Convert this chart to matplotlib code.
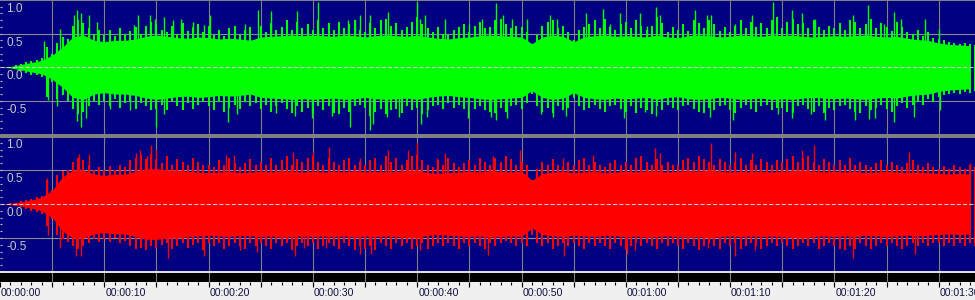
import numpy as np
import matplotlib
matplotlib.use("Agg")
import matplotlib.pyplot as plt
from matplotlib.patches import Rectangle
import matplotlib.transforms as mtransforms

# ---------------- data ----------------
# solid "body" level of each channel, 1 s steps
green_body = [
    0.00, 0.01, 0.04, 0.07, 0.10, 0.18, 0.30, 0.45, 0.48, 0.40,
    0.38, 0.40, 0.40, 0.42, 0.46, 0.48, 0.46, 0.44, 0.43, 0.45,
    0.44, 0.42, 0.43, 0.42, 0.40, 0.45, 0.46, 0.47, 0.48, 0.47,
    0.48, 0.47, 0.46, 0.48, 0.47, 0.45, 0.47, 0.48, 0.47, 0.46,
    0.48, 0.45, 0.43, 0.42, 0.44, 0.45, 0.47, 0.48, 0.47, 0.46,
    0.45, 0.35, 0.45, 0.48, 0.46, 0.38, 0.45, 0.47, 0.48, 0.46,
    0.47, 0.46, 0.45, 0.48, 0.45, 0.44, 0.47, 0.48, 0.47, 0.45,
    0.46, 0.48, 0.47, 0.46, 0.48, 0.47, 0.48, 0.46, 0.45, 0.46,
    0.47, 0.46, 0.47, 0.48, 0.46, 0.45, 0.46, 0.43, 0.41, 0.40,
    0.36, 0.34, 0.33, 0.32,
]
red_body = [
    0.00, 0.01, 0.03, 0.06, 0.10, 0.20, 0.40, 0.50, 0.50, 0.44,
    0.42, 0.44, 0.44, 0.48, 0.52, 0.52, 0.50, 0.50, 0.48, 0.47,
    0.46, 0.47, 0.48, 0.46, 0.47, 0.48, 0.47, 0.49, 0.48, 0.47,
    0.48, 0.47, 0.48, 0.47, 0.49, 0.47, 0.48, 0.47, 0.48, 0.49,
    0.50, 0.46, 0.45, 0.46, 0.47, 0.48, 0.47, 0.49, 0.48, 0.47,
    0.48, 0.35, 0.45, 0.47, 0.48, 0.46, 0.47, 0.48, 0.46, 0.47,
    0.48, 0.47, 0.49, 0.48, 0.47, 0.48, 0.49, 0.48, 0.50, 0.48,
    0.47, 0.48, 0.47, 0.48, 0.47, 0.48, 0.49, 0.50, 0.48, 0.47,
    0.48, 0.47, 0.48, 0.46, 0.47, 0.48, 0.47, 0.46, 0.47, 0.46,
    0.45, 0.44, 0.45, 0.44,
]
# jagged peak edge of each channel, 0.5 s steps
green_upper = [
    0.00, 0.00, 0.01, 0.03, 0.05, 0.07, 0.09, 0.10, 0.13, 0.30,
    0.20, 0.36, 0.45, 0.42, 0.62, 0.70, 0.66, 0.58, 0.50, 0.56,
    0.48, 0.55, 0.46, 0.58, 0.50, 0.54, 0.60, 0.50, 0.62, 0.68,
    0.64, 0.56, 0.52, 0.62, 0.50, 0.66, 0.54, 0.60, 0.64, 0.52,
    0.62, 0.48, 0.56, 0.46, 0.58, 0.62, 0.50, 0.56, 0.60, 0.40,
    0.62, 0.52, 0.66, 0.55, 0.60, 0.70, 0.56, 0.68, 0.58, 0.64,
    0.56, 0.70, 0.58, 0.66, 0.55, 0.68, 0.58, 0.64, 0.70, 0.56,
    0.52, 0.66, 0.58, 0.70, 0.72, 0.62, 0.66, 0.56, 0.60, 0.68,
    0.74, 0.64, 0.58, 0.52, 0.60, 0.50, 0.48, 0.56, 0.60, 0.64,
    0.52, 0.62, 0.68, 0.58, 0.60, 0.70, 0.72, 0.64, 0.58, 0.62,
    0.60, 0.52, 0.35, 0.48, 0.62, 0.68, 0.70, 0.58, 0.62, 0.52,
    0.40, 0.56, 0.60, 0.64, 0.70, 0.58, 0.72, 0.60, 0.56, 0.64,
    0.68, 0.58, 0.70, 0.62, 0.56, 0.62, 0.74, 0.66, 0.52, 0.60,
    0.56, 0.64, 0.54, 0.70, 0.66, 0.58, 0.70, 0.64, 0.54, 0.60,
    0.52, 0.62, 0.70, 0.58, 0.68, 0.60, 0.66, 0.58, 0.70, 0.74,
    0.58, 0.68, 0.72, 0.64, 0.66, 0.58, 0.70, 0.60, 0.55, 0.62,
    0.58, 0.66, 0.56, 0.70, 0.68, 0.58, 0.64, 0.72, 0.58, 0.66,
    0.60, 0.54, 0.68, 0.60, 0.52, 0.50, 0.56, 0.46, 0.52, 0.44,
    0.42, 0.40, 0.37, 0.36, 0.34, 0.36, 0.34, 0.33,
]
green_lower = [
    0.00, 0.00, -0.01, -0.03, -0.06, -0.09, -0.11, -0.12, -0.14, -0.45,
    -0.22, -0.48, -0.42, -0.50, -0.62, -0.70, -0.66, -0.58, -0.50, -0.56,
    -0.50, -0.58, -0.48, -0.60, -0.54, -0.50, -0.62, -0.54, -0.58, -0.64,
    -0.62, -0.56, -0.64, -0.52, -0.58, -0.64, -0.54, -0.62, -0.56, -0.52,
    -0.58, -0.64, -0.52, -0.66, -0.60, -0.56, -0.62, -0.52, -0.58, -0.54,
    -0.62, -0.56, -0.66, -0.58, -0.54, -0.62, -0.68, -0.58, -0.66, -0.60,
    -0.68, -0.58, -0.64, -0.58, -0.68, -0.70, -0.60, -0.66, -0.58, -0.56,
    -0.60, -0.72, -0.66, -0.62, -0.70, -0.64, -0.62, -0.68, -0.58, -0.64,
    -0.60, -0.70, -0.64, -0.58, -0.56, -0.62, -0.54, -0.60, -0.56, -0.62,
    -0.54, -0.62, -0.58, -0.64, -0.66, -0.68, -0.60, -0.66, -0.58, -0.56,
    -0.62, -0.54, -0.40, -0.58, -0.66, -0.60, -0.68, -0.58, -0.64, -0.60,
    -0.46, -0.58, -0.64, -0.60, -0.56, -0.62, -0.66, -0.58, -0.56, -0.62,
    -0.66, -0.58, -0.68, -0.60, -0.64, -0.70, -0.58, -0.64, -0.56, -0.60,
    -0.64, -0.58, -0.56, -0.62, -0.66, -0.68, -0.60, -0.64, -0.58, -0.56,
    -0.64, -0.68, -0.60, -0.56, -0.62, -0.66, -0.58, -0.56, -0.64, -0.60,
    -0.60, -0.66, -0.68, -0.58, -0.56, -0.62, -0.66, -0.58, -0.68, -0.60,
    -0.64, -0.58, -0.56, -0.62, -0.66, -0.68, -0.58, -0.64, -0.60, -0.56,
    -0.62, -0.66, -0.58, -0.54, -0.60, -0.56, -0.52, -0.56, -0.48, -0.52,
    -0.45, -0.42, -0.40, -0.38, -0.40, -0.37, -0.38, -0.36,
]
green_spike_t = [
    4.2, 4.6, 5.5, 5.8, 7.1, 7.4, 7.8, 8.5, 7.4, 7.8, 8.2, 9.3, 10.5, 12.5,
    12.8, 13.2, 14.4, 14.9, 15.0, 15.7, 15.7, 16.6, 17.4, 18.5, 19.6, 20.1,
    21.9, 22.7, 23.5, 24.7, 26.0, 26.5, 28.3, 28.5, 29.9, 30.5, 31.8, 33.4,
    33.6, 34.0, 34.5, 35.5, 35.5, 35.8, 37.2, 37.1, 38.3, 39.95, 40.3, 40.4,
    40.7, 40.9, 42.7, 45.0, 44.9, 46.2, 47.1, 47.6, 47.6, 48.2, 48.6, 49.1,
    50.5, 51.9, 52.7, 53.0, 53.4, 54.3, 56.2, 57.8, 58.5, 59.4, 59.8, 61.4,
    61.8, 62.0, 62.5, 62.9, 62.9, 63.3, 66.5, 66.6, 67.8, 68.2, 68.1, 70.3,
    70.5, 72.1, 74.6, 74.1, 75.9, 75.9, 76.9, 77.8, 78.1, 79.1, 81.8, 82.0,
    83.2, 83.3, 83.9, 84.8, 85.75, 85.75, 86.4, 87.6, 88.7, 90.0, 90.1,
]
green_spike_v = [
    0.39, -0.49, -0.58, 0.57, 0.77, 0.85, 0.80, 0.77, -0.80, -0.89, -0.75, 0.67, -0.62, -0.64,
    0.63, 0.77, 0.77, 0.72, -0.89, 0.75, -0.70, 0.70, 0.72, 0.68, 0.63, 0.77,
    -0.81, -0.70, 0.65, 0.85, 0.83, -0.68, -0.73, 0.83, -0.76, 0.97, -0.72, 0.70,
    -0.89, 0.70, 0.77, 0.77, -0.94, -0.84, 0.82, -0.74, -0.74, 0.97, 0.72, -0.84,
    0.77, -0.74, 0.72, 0.65, -0.76, 0.72, -0.74, 0.95, -0.78, 0.77, -0.76, 0.72,
    0.72, -0.70, 0.77, -0.74, 0.72, -0.72, 0.80, 0.87, 0.65, 0.80, -0.76, 0.80,
    -0.66, 0.62, -0.64, 0.90, -0.72, 0.77, 0.70, 0.85, 0.77, 0.77, -0.74, -0.79,
    0.65, 0.77, -0.70, 0.97, 0.85, -0.76, 0.80, -0.70, 0.72, -0.79, 0.77, -0.79,
    0.92, -0.77, -0.76, 0.65, 0.82, -0.81, 0.72, -0.74, 0.72, 0.57, -0.64,
]

red_upper = [
    0.00, 0.00, 0.01, 0.02, 0.04, 0.06, 0.08, 0.10, 0.12, 0.35,
    0.20, 0.42, 0.48, 0.50, 0.62, 0.68, 0.64, 0.58, 0.50, 0.54,
    0.50, 0.56, 0.50, 0.58, 0.54, 0.64, 0.68, 0.72, 0.66, 0.74,
    0.66, 0.60, 0.70, 0.58, 0.66, 0.62, 0.58, 0.68, 0.62, 0.58,
    0.58, 0.55, 0.64, 0.58, 0.68, 0.60, 0.55, 0.60, 0.66, 0.58,
    0.62, 0.58, 0.68, 0.58, 0.64, 0.70, 0.58, 0.66, 0.62, 0.68,
    0.70, 0.62, 0.58, 0.68, 0.62, 0.58, 0.64, 0.68, 0.58, 0.62,
    0.58, 0.64, 0.68, 0.58, 0.70, 0.62, 0.68, 0.58, 0.64, 0.70,
    0.72, 0.64, 0.58, 0.55, 0.64, 0.58, 0.68, 0.60, 0.55, 0.60,
    0.64, 0.58, 0.68, 0.62, 0.58, 0.68, 0.62, 0.70, 0.66, 0.58,
    0.62, 0.58, 0.35, 0.52, 0.62, 0.58, 0.66, 0.58, 0.55, 0.62,
    0.58, 0.64, 0.68, 0.58, 0.62, 0.58, 0.55, 0.60, 0.64, 0.58,
    0.62, 0.58, 0.68, 0.70, 0.62, 0.58, 0.66, 0.58, 0.62, 0.58,
    0.58, 0.64, 0.68, 0.62, 0.70, 0.66, 0.62, 0.58, 0.66, 0.62,
    0.58, 0.62, 0.68, 0.58, 0.64, 0.58, 0.66, 0.62, 0.58, 0.64,
    0.62, 0.66, 0.70, 0.62, 0.68, 0.70, 0.62, 0.58, 0.66, 0.62,
    0.58, 0.64, 0.58, 0.68, 0.58, 0.62, 0.58, 0.55, 0.60, 0.64,
    0.58, 0.62, 0.58, 0.55, 0.60, 0.64, 0.58, 0.55, 0.60, 0.55,
    0.52, 0.56, 0.52, 0.58, 0.55, 0.52, 0.58, 0.55,
]
red_lower = [
    0.00, 0.00, -0.01, -0.03, -0.05, -0.08, -0.10, -0.12, -0.14, -0.33,
    -0.22, -0.45, -0.52, -0.56, -0.62, -0.66, -0.62, -0.58, -0.52, -0.56,
    -0.52, -0.56, -0.50, -0.58, -0.55, -0.62, -0.66, -0.64, -0.68, -0.62,
    -0.64, -0.60, -0.58, -0.66, -0.62, -0.58, -0.64, -0.60, -0.58, -0.68,
    -0.58, -0.62, -0.58, -0.66, -0.62, -0.58, -0.62, -0.66, -0.58, -0.62,
    -0.58, -0.62, -0.66, -0.58, -0.62, -0.58, -0.68, -0.62, -0.58, -0.62,
    -0.58, -0.66, -0.62, -0.58, -0.62, -0.66, -0.58, -0.62, -0.68, -0.62,
    -0.66, -0.62, -0.68, -0.58, -0.62, -0.66, -0.58, -0.62, -0.58, -0.66,
    -0.62, -0.58, -0.66, -0.62, -0.58, -0.62, -0.58, -0.62, -0.66, -0.58,
    -0.62, -0.58, -0.62, -0.66, -0.58, -0.62, -0.58, -0.55, -0.58, -0.62,
    -0.58, -0.62, -0.45, -0.58, -0.62, -0.58, -0.66, -0.62, -0.58, -0.62,
    -0.58, -0.62, -0.66, -0.58, -0.62, -0.58, -0.62, -0.66, -0.58, -0.62,
    -0.66, -0.62, -0.58, -0.62, -0.58, -0.62, -0.66, -0.58, -0.62, -0.58,
    -0.62, -0.66, -0.58, -0.62, -0.68, -0.62, -0.58, -0.62, -0.66, -0.58,
    -0.62, -0.58, -0.66, -0.62, -0.58, -0.62, -0.66, -0.62, -0.58, -0.62,
    -0.58, -0.62, -0.66, -0.62, -0.58, -0.62, -0.58, -0.66, -0.62, -0.58,
    -0.62, -0.66, -0.68, -0.62, -0.66, -0.58, -0.62, -0.66, -0.62, -0.58,
    -0.62, -0.58, -0.62, -0.66, -0.62, -0.58, -0.62, -0.58, -0.62, -0.58,
    -0.58, -0.62, -0.58, -0.62, -0.58, -0.62, -0.58, -0.62,
]
red_spike_t = [
    4.5, 4.6, 5.8, 7.6, 8.5, 7.3, 7.8, 13.0, 13.4, 14.1, 14.5, 15.0, 16.1,
    19.6, 21.7, 22.4, 23.0, 24.6, 28.1, 28.3, 29.1, 30.0, 31.5, 31.3, 34.5,
    34.5, 35.6, 37.2, 39.1, 39.95, 40.3, 41.9, 42.7, 46.8, 47.3, 49.9, 54.0,
    54.1, 56.9, 60.1, 60.9, 62.8, 63.3, 63.0, 67.9, 68.2, 70.5, 70.5, 72.1,
    72.4, 76.9, 78.0, 78.5, 81.8, 87.2, 87.7, 93.0,
]
red_spike_v = [
    0.38, -0.46, -0.65, 0.73, 0.73, -0.77, -0.77, 0.75, 0.80, 0.70, 0.87, 0.79, -0.80,
    -0.77, 0.72, 0.72, -0.68, -0.70, 0.77, -0.77, -0.65, 0.77, 0.84, -0.65, 0.67,
    -0.73, -0.73, 0.80, 0.80, 0.89, -0.68, 0.67, 0.75, -0.75, 0.70, 0.80, 0.67,
    -0.77, 0.72, -0.73, -0.68, 0.82, 0.75, -0.60, -0.65, 0.89, 0.77, -0.77, 0.75,
    -0.68, 0.80, 0.87, -0.65, -0.80, 0.77, -0.73, 0.60,
]

amp_ticks = [1.0, 0.5, 0.0, -0.5]
amp_labels = ["1.0", "0.5", "0.0", "-0.5"]
time_label_sec = [0, 10, 20, 30, 40, 50, 60, 70, 80, 90]
time_labels = ["00:00:00", "00:00:10", "00:00:20", "00:00:30", "00:00:40",
               "00:00:50", "00:01:00", "00:01:10", "00:01:20", "00:01:30"]

# ---------------- styling / layout ----------------
W, H = 975, 300
PX_PER_SEC = 10.43
DUR = W / PX_PER_SEC
NAVY = "#000080"
GRID = "#808080"

fig = plt.figure(figsize=(W / 100, H / 100), dpi=100)
fig.patch.set_facecolor("#f0f0f0")


def px_rect(top, bottom):
    return [0, 1 - bottom / H, 1, (bottom - top) / H]


def clean(ax):
    for s in ax.spines.values():
        s.set_visible(False)
    ax.set_xticks([])
    ax.set_yticks([])
    ax.set_xlim(0, DUR)


def panel(ax, body, upper, lower, st, sv, color):
    clean(ax)
    ax.set_facecolor(NAVY)
    ax.set_ylim(-1, 1)
    for t in range(5, 95, 5):
        ax.axvline(t, color=GRID, lw=0.8, zorder=1)
    for y in (0.5, -0.5):
        ax.axhline(y, color="#8c8c8c", lw=0.8, zorder=1)
    tb = np.arange(len(body)) * 1.0
    b = np.asarray(body)
    ax.fill_between(tb, -b, b, color=color, lw=0, zorder=2)
    te = np.arange(len(upper)) * 0.5
    ax.vlines(te, 0, upper, color=color, lw=1.5, zorder=2)
    ax.vlines(te, 0, lower, color=color, lw=1.5, zorder=2)
    ax.vlines(st, 0, sv, color=color, lw=1.0, zorder=2)
    ax.axhline(0, color="#d0d0d0", lw=0.75, linestyle=(0, (4, 2)), zorder=3)
    small = np.round(np.arange(-0.9, 1.0, 0.1), 2)
    ax.hlines(small, 0, 2.2 / PX_PER_SEC, color="#c0c0c0", lw=0.8, zorder=4)
    tr = mtransforms.offset_copy(ax.transData, fig=fig, x=0, y=-3, units="dots")
    for v, lab in zip(amp_ticks, amp_labels):
        ax.text(6.5 / PX_PER_SEC, v, lab, transform=tr, ha="left", va="top",
                color="#c8c8c8", fontsize=8.5, family="Liberation Sans", zorder=5)


ax_top = fig.add_axes(px_rect(0, 134.4))
panel(ax_top, green_body, green_upper, green_lower, green_spike_t, green_spike_v, "#00ff00")
ax_bot = fig.add_axes(px_rect(136, 272))
panel(ax_bot, red_body, red_upper, red_lower, red_spike_t, red_spike_v, "#ff0000")

# separator + top border + white rule
fig.add_artist(Rectangle((0, 1 - 137.6 / H), 1, 3.6 / H, transform=fig.transFigure,
                         color="#808080", lw=0, zorder=10))
fig.add_artist(Rectangle((0, 1 - 1.2 / H), 1, 1.2 / H, transform=fig.transFigure,
                         color="#808080", lw=0, zorder=10))
fig.add_artist(Rectangle((0, 1 - 272.6 / H), 1, 1.6 / H, transform=fig.transFigure,
                         color="#e0e0e0", lw=0, zorder=10))

# black band
ax_band = fig.add_axes(px_rect(272.6, 282))
clean(ax_band)
ax_band.set_facecolor("black")
ax_band.set_ylim(0, 1)
for t in range(5, 95, 5):
    ax_band.axvline(t, color=GRID, lw=0.8)

# ruler
ax_r = fig.add_axes(px_rect(282, 300))
clean(ax_r)
ax_r.set_facecolor("#f0f0f0")
ax_r.set_ylim(18, 0)
ax_r.vlines(np.arange(0, 94, 5), 0, 5.3, color="#000000", lw=0.8)
ax_r.vlines(np.arange(1, 94, 1), 0, 2.6, color="#000000", lw=0.8)
for s, lab in zip(time_label_sec, time_labels):
    ax_r.text(s + 1.0 / PX_PER_SEC, 14.2, lab, ha="left", va="baseline",
              color="#101040", fontsize=7.6, family="Liberation Sans")

fig.savefig("out.png", dpi=100, facecolor=fig.get_facecolor())
